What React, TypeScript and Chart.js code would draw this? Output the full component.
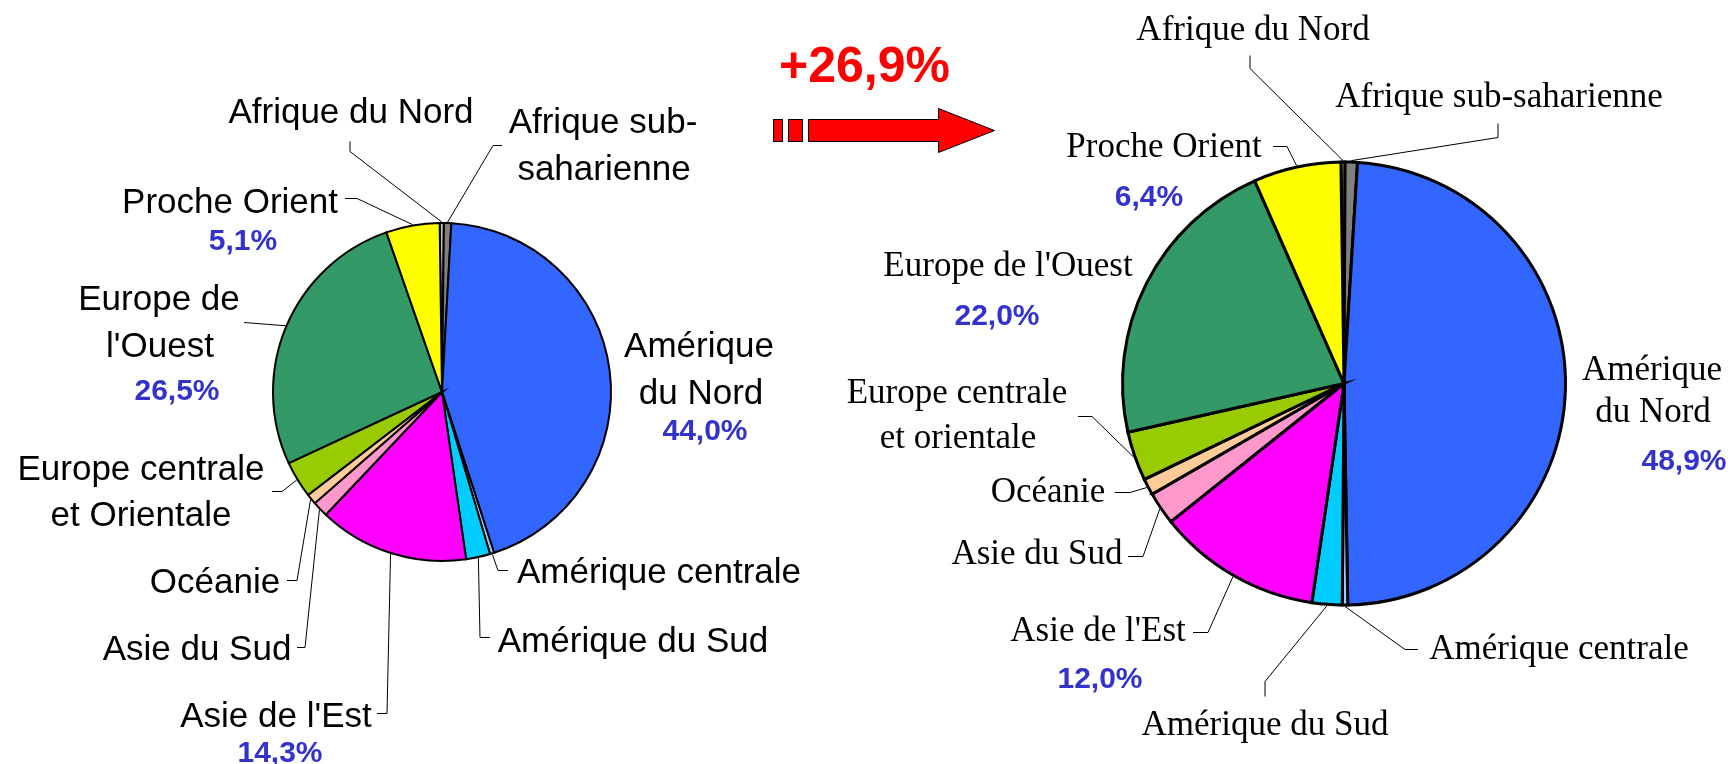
import React, { useEffect, useRef } from "react";
import { Chart, registerables } from "chart.js";

Chart.register(...registerables);

// ---------- DATA ----------
const CATEGORIES = [
  "Afrique du Nord",
  "Afrique sub-saharienne",
  "Amérique du Nord",
  "Amérique centrale",
  "Amérique du Sud",
  "Asie de l'Est",
  "Asie du Sud",
  "Océanie",
  "Europe centrale et orientale",
  "Europe de l'Ouest",
  "Proche Orient",
];
const VALUES_BEFORE = [0.4, 0.7, 44.0, 0.4, 2.3, 14.3, 1.5, 1.0, 3.5, 26.5, 5.1];
const VALUES_AFTER = [0.3, 0.9, 48.9, 0.4, 2.2, 12.0, 2.4, 1.2, 3.6, 22.0, 6.4];
const GROWTH_PCT = 26.9;

// ---------- STYLE ----------
const COLORS = [
  "#C0C0C0",
  "#808080",
  "#3366FF",
  "#99CCFF",
  "#00CCFF",
  "#FF00FF",
  "#FF99CC",
  "#FFCC99",
  "#99CC00",
  "#339966",
  "#FFFF00",
];
const PCT_COLOR = "#3333CC";
const W = 1731;
const H = 764;

type Pt = [number, number];
type LabelLayout = {
  idx: number;
  lines: string[];
  cx: number[];
  base: number[];
  pct?: Pt;
  leader?: Pt[];
};

const LEFT_LAYOUT: LabelLayout[] = [
  { idx: 0, lines: ["Afrique du Nord"], cx: [351], base: [123], leader: [[350, 141], [350, 151]] },
  { idx: 1, lines: ["Afrique sub-", "saharienne"], cx: [603, 604], base: [133, 180], leader: [[502, 145], [493, 145]] },
  { idx: 2, lines: ["Amérique", "du Nord"], cx: [699, 701], base: [357, 404], pct: [705, 440] },
  { idx: 3, lines: ["Amérique centrale"], cx: [659], base: [583], leader: [[508, 570], [498, 570]] },
  { idx: 4, lines: ["Amérique du Sud"], cx: [633], base: [652], leader: [[490, 637], [480, 637]] },
  { idx: 5, lines: ["Asie de l'Est"], cx: [276], base: [727], pct: [280, 762], leader: [[377, 713], [387, 713]] },
  { idx: 6, lines: ["Asie du Sud"], cx: [197], base: [660], leader: [[297, 647], [305, 647]] },
  { idx: 7, lines: ["Océanie"], cx: [215], base: [593], leader: [[287, 580], [297, 580]] },
  { idx: 8, lines: ["Europe centrale", "et Orientale"], cx: [141, 141], base: [480, 526], leader: [[272, 491], [282, 491]] },
  { idx: 9, lines: ["Europe de", "l'Ouest"], cx: [159, 160], base: [310, 357], pct: [177, 400], leader: [[244, 322]] },
  { idx: 10, lines: ["Proche Orient"], cx: [230], base: [213], pct: [243, 250], leader: [[345, 198], [357, 198]] },
];

const RIGHT_LAYOUT: LabelLayout[] = [
  { idx: 0, lines: ["Afrique du Nord"], cx: [1253], base: [40], leader: [[1250, 55], [1250, 68]] },
  { idx: 1, lines: ["Afrique sub-saharienne"], cx: [1499], base: [107], leader: [[1498, 123], [1498, 137]] },
  { idx: 2, lines: ["Amérique", "du Nord"], cx: [1652, 1653], base: [380, 422], pct: [1684, 470] },
  { idx: 3, lines: ["Amérique centrale"], cx: [1559], base: [659], leader: [[1418, 649], [1405, 649]] },
  { idx: 4, lines: ["Amérique du Sud"], cx: [1265], base: [735], leader: [[1265, 696], [1265, 681]] },
  { idx: 5, lines: ["Asie de l'Est"], cx: [1098], base: [641], pct: [1100, 688], leader: [[1193, 632], [1208, 632]] },
  { idx: 6, lines: ["Asie du Sud"], cx: [1037], base: [564], leader: [[1128, 556], [1143, 556]] },
  { idx: 7, lines: ["Océanie"], cx: [1048], base: [502], leader: [[1115, 492], [1130, 492]] },
  { idx: 8, lines: ["Europe centrale", "et orientale"], cx: [957, 958], base: [403, 448], leader: [[1078, 416], [1092, 416]] },
  { idx: 9, lines: ["Europe de l'Ouest"], cx: [1008], base: [276], pct: [997, 325] },
  { idx: 10, lines: ["Proche Orient"], cx: [1164], base: [157], pct: [1149, 206], leader: [[1273, 146], [1287, 146]] },
];

const fmtPct = (v: number) => v.toFixed(1).replace(".", ",") + "%";

function makeLabelPlugin(
  layout: LabelLayout[],
  values: number[],
  font: string,
  withArrow: boolean
) {
  return {
    id: "customLabels",
    afterDraw(chart: any) {
      const ctx: CanvasRenderingContext2D = chart.ctx;
      const meta = chart.getDatasetMeta(0);
      const bw = chart.data.datasets[0].borderWidth as number;
      ctx.save();
      ctx.textAlign = "center";
      ctx.textBaseline = "alphabetic";
      for (const L of layout) {
        // leader line
        if (L.leader) {
          const arc: any = meta.data[L.idx];
          const mid = (arc.startAngle + arc.endAngle) / 2;
          const r = arc.outerRadius + bw / 2;
          const ex = arc.x + Math.cos(mid) * r;
          const ey = arc.y + Math.sin(mid) * r;
          ctx.beginPath();
          ctx.moveTo(L.leader[0][0], L.leader[0][1] + 0.5);
          for (let k = 1; k < L.leader.length; k++) ctx.lineTo(L.leader[k][0], L.leader[k][1] + 0.5);
          ctx.lineTo(ex, ey);
          ctx.strokeStyle = "#000";
          ctx.lineWidth = 1;
          ctx.stroke();
        }
        ctx.fillStyle = "#000";
        ctx.font = font;
        L.lines.forEach((t, k) => ctx.fillText(t, L.cx[k], L.base[k]));
        if (L.pct) {
          ctx.fillStyle = PCT_COLOR;
          ctx.font = 'bold 30px "Liberation Sans", Arial, sans-serif';
          ctx.fillText(fmtPct(values[L.idx]), L.pct[0], L.pct[1]);
        }
      }
      if (withArrow) {
        ctx.fillStyle = "#FF0000";
        ctx.font = 'bold 50px "Liberation Sans", Arial, sans-serif';
        ctx.textAlign = "left";
        ctx.fillText("+" + fmtPct(GROWTH_PCT), 779, 82);
        ctx.strokeStyle = "#000";
        ctx.lineWidth = 1;
        ctx.fillStyle = "#FF0000";
        const rects: [number, number][] = [
          [773, 782],
          [788, 802],
        ];
        for (const [x0, x1] of rects) {
          ctx.fillRect(x0, 119, x1 - x0, 22);
          ctx.strokeRect(x0 + 0.5, 119.5, x1 - x0, 22);
        }
        ctx.beginPath();
        ctx.moveTo(808.5, 119.5);
        ctx.lineTo(938.5, 119.5);
        ctx.lineTo(938.5, 108.5);
        ctx.lineTo(994.5, 130.5);
        ctx.lineTo(938.5, 152.5);
        ctx.lineTo(938.5, 141.5);
        ctx.lineTo(808.5, 141.5);
        ctx.closePath();
        ctx.fill();
        ctx.stroke();
      }
      ctx.restore();
    },
  };
}

function makeConfig(
  values: number[],
  cx: number,
  cy: number,
  radius: number,
  borderWidth: number,
  plugin: any
): any {
  const half = 250;
  return {
    type: "pie",
    data: {
      labels: CATEGORIES,
      datasets: [
        {
          data: values,
          backgroundColor: COLORS,
          borderColor: "#000000",
          borderWidth,
          borderJoinStyle: "miter",
          radius,
          rotation: -0.8,
        },
      ],
    },
    options: {
      animation: false,
      responsive: false,
      devicePixelRatio: 1,
      rotation: -0.8,
      events: [],
      layout: {
        padding: {
          left: cx - half,
          right: W - (cx + half),
          top: cy - half,
          bottom: H - (cy + half),
        },
      },
      plugins: {
        legend: { display: false },
        tooltip: { enabled: false },
      },
    },
    plugins: [plugin],
  };
}

export default function App() {
  const leftRef = useRef<HTMLCanvasElement | null>(null);
  const rightRef = useRef<HTMLCanvasElement | null>(null);

  useEffect(() => {
    const left = new Chart(
      leftRef.current as HTMLCanvasElement,
      makeConfig(
        VALUES_BEFORE,
        442,
        392,
        169,
        2,
        makeLabelPlugin(LEFT_LAYOUT, VALUES_BEFORE, '35px "Liberation Sans", Arial, sans-serif', true)
      )
    );
    const right = new Chart(
      rightRef.current as HTMLCanvasElement,
      makeConfig(
        VALUES_AFTER,
        1344,
        383.5,
        221.5,
        3,
        makeLabelPlugin(RIGHT_LAYOUT, VALUES_AFTER, '35px "Liberation Serif", "Times New Roman", serif', false)
      )
    );
    return () => {
      left.destroy();
      right.destroy();
    };
  }, []);

  const canvasStyle: React.CSSProperties = {
    position: "absolute",
    left: 0,
    top: 0,
    width: W,
    height: H,
  };

  return (
    <div
      style={{
        position: "fixed",
        left: 0,
        top: 0,
        width: W,
        height: H,
        background: "#ffffff",
        overflow: "hidden",
      }}
    >
      <canvas ref={leftRef} width={W} height={H} style={canvasStyle} />
      <canvas ref={rightRef} width={W} height={H} style={canvasStyle} />
    </div>
  );
}
